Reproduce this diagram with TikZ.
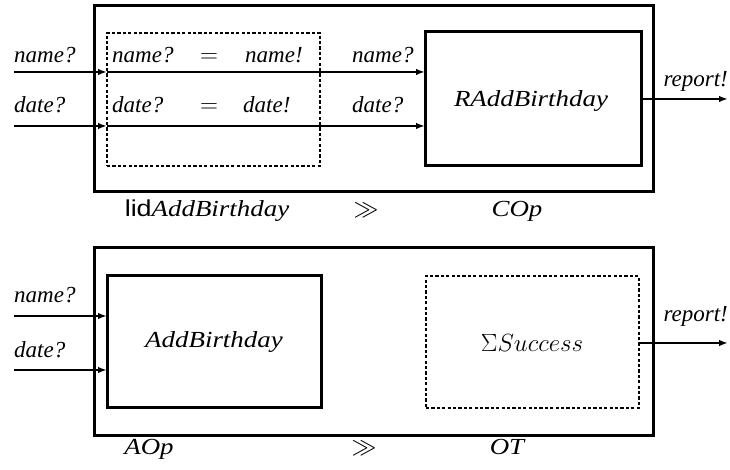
\documentclass[tikz,border=0pt]{standalone}
\usepackage{fontspec}
\setmainfont{Liberation Serif}
\newfontfamily\lidfont{Liberation Sans}
\usetikzlibrary{arrows.meta}
\newcommand{\wide}[1]{\scalebox{1.17}[1]{#1}}
\begin{document}
\begin{tikzpicture}[x=1pt,y=1pt,
  every node/.style={font=\fontsize{23}{27}\selectfont\itshape},
  outerbox/.style={draw,line width=3pt,inner sep=0pt,outer sep=0pt},
  solidbox/.style={draw,line width=3pt,inner sep=0pt,outer sep=0pt},
  dashbox/.style={draw,line width=2.2pt,dash pattern=on 3.2pt off 2.2pt,inner sep=0pt,outer sep=0pt},
  flow/.style={line width=2.9pt,-{Latex[length=9pt,width=6.5pt]}},
  lbl/.style={inner sep=0pt,anchor=base west},
  lblc/.style={inner sep=0pt,anchor=base},
  mathlbl/.style={inner sep=0pt,anchor=base,font=\fontsize{24.88}{29}\selectfont}]
\useasboundingbox (0,0) rectangle (730,470);
% ---------- top diagram ----------
\node[outerbox,minimum width=559pt,minimum height=186pt] (outerA) at (373.5,371) {};
\node[dashbox,minimum width=213pt,minimum height=133pt] (dashA) at (213.5,370.5) {};
\node[solidbox,minimum width=216pt,minimum height=134pt] (radd) at (533,371) {};
\node[lblc] (raddt) at (531,363) {\wide{RAddBirthday}};
\coordinate (inNA) at (14,398);
\coordinate (inDA) at (14,344);
\coordinate (dNA) at (dashA.west |- inNA);
\coordinate (dDA) at (dashA.west |- inDA);
\coordinate (rNA) at (radd.west |- inNA);
\coordinate (rDA) at (radd.west |- inDA);
\coordinate (outA) at (728,371);
\draw[flow] (inNA) -- (dNA);
\draw[flow] (dNA) -- (rNA);
\draw[flow] (inDA) -- (dDA);
\draw[flow] (dDA) -- (rDA);
\draw[flow] (radd.east) -- (outA);
\node[lbl] (n1) at (14,407) {name?};
\node[lbl] (d1) at (14,357) {date?};
\node[lbl] (n2) at (112,407) {name?};
\node[mathlbl] (eq1) at (209,407) {$=$};
\node[lbl] (n3) at (245,407) {name!};
\node[lbl] (d2) at (112,357) {date?};
\node[mathlbl] (eq2) at (209,357) {$=$};
\node[lbl] (d3) at (243,357) {date!};
\node[lbl] (n4) at (352,407) {name?};
\node[lbl] (d4) at (352,357) {date?};
\node[inner sep=0pt,anchor=base east] (rep1) at (728,383) {report!};
\node[lblc] (lidl) at (207,253) {\wide{{\lidfont\upshape lid}AddBirthday}};
\node[mathlbl] (gg1) at (366,253) {$\gg$};
\node[lblc] (copl) at (517,253) {\wide{COp}};
% ---------- bottom diagram ----------
\node[outerbox,minimum width=559pt,minimum height=188pt] (outerB) at (373.5,128) {};
\node[solidbox,minimum width=214pt,minimum height=132pt] (addb) at (214,128) {};
\node[lblc] (addbt) at (214,122) {\wide{AddBirthday}};
\node[dashbox,minimum width=213pt,minimum height=132pt] (succ) at (532.5,128) {};
\node[mathlbl] (succt) at (532,118) {$\Sigma Success$};
\coordinate (inNB) at (14,154);
\coordinate (inDB) at (14,100);
\coordinate (aNB) at (addb.west |- inNB);
\coordinate (aDB) at (addb.west |- inDB);
\coordinate (outB) at (728,127);
\draw[flow] (inNB) -- (aNB);
\draw[flow] (inDB) -- (aDB);
\draw[flow] (succ.east |- outB) -- (outB);
\node[lbl] (n5) at (14,167) {name?};
\node[lbl] (d5) at (14,112) {date?};
\node[inner sep=0pt,anchor=base east] (rep2) at (728,148) {report!};
\node[lblc] (aopl) at (149,15) {\wide{AOp}};
\node[mathlbl] (gg2) at (364,15) {$\gg$};
\node[lblc] (otl) at (507,15) {\wide{OT}};
\end{tikzpicture}
\end{document}
